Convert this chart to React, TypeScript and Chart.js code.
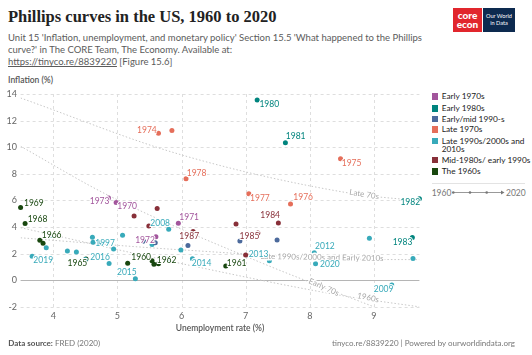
import React, { useEffect, useRef } from "react";
import { Chart, registerables } from "chart.js";

Chart.register(...registerables);

// ---------- Data ----------
const years = [
  1960, 1961, 1962, 1963, 1964, 1965, 1966, 1967, 1968, 1969,
  1970, 1971, 1972, 1973, 1974, 1975, 1976, 1977, 1978, 1979,
  1980, 1981, 1982, 1983, 1984, 1985, 1986, 1987, 1988, 1989,
  1990, 1991, 1992, 1993, 1994, 1995, 1996, 1997, 1998, 1999,
  2000, 2001, 2002, 2003, 2004, 2005, 2006, 2007, 2008, 2009,
  2010, 2011, 2012, 2013, 2014, 2015, 2016, 2017, 2018, 2019, 2020,
];
const unemployment = [
  5.54, 6.69, 5.57, 5.64, 5.16, 4.51, 3.79, 3.84, 3.56, 3.49,
  4.98, 5.95, 5.6, 4.86, 5.64, 8.48, 7.7, 7.05, 6.07, 5.85,
  7.18, 7.62, 9.71, 9.6, 7.51, 7.19, 7.0, 6.18, 5.49, 5.26,
  5.62, 6.85, 7.49, 6.91, 6.1, 5.59, 5.41, 4.94, 4.5, 4.22,
  3.97, 4.74, 5.78, 5.99, 5.54, 5.08, 4.61, 4.62, 5.8, 9.28,
  9.61, 8.93, 8.07, 7.37, 6.17, 5.28, 4.87, 4.36, 3.89, 3.67, 8.09,
];
const inflation = [
  1.46, 1.07, 1.2, 1.24, 1.28, 1.59, 3.01, 2.78, 4.27, 5.46,
  5.84, 4.29, 3.27, 6.18, 11.05, 9.14, 5.74, 6.5, 7.63, 11.25,
  13.55, 10.33, 6.13, 3.21, 4.3, 3.55, 1.9, 3.66, 4.08, 4.83,
  5.4, 4.23, 3.03, 2.95, 2.61, 2.81, 2.93, 2.34, 1.55, 2.19,
  3.38, 2.83, 1.59, 2.27, 2.68, 3.39, 3.23, 2.85, 3.84, -0.36,
  1.64, 3.16, 2.07, 1.46, 1.62, 0.12, 1.26, 2.13, 2.44, 1.81, 1.23,
];

const groupNames = [
  "Early 1970s",
  "Early 1980s",
  "Early/mid 1990-s",
  "Late 1970s",
  "Late 1990s/2000s and 2010s",
  "Mid-1980s/ early 1990s",
  "The 1960s",
];
const groupColors = ["#A2559C", "#00847E", "#4C6A9C", "#E56E5A", "#38AABA", "#883039", "#18470F"];
const groupStartYears = [1970, 1980, 1992, 1974, 1997, 1984, 1960];
const groupEndYears = [1973, 1983, 1996, 1979, 2020, 1991, 1969];

const labeledYears = [
  1960, 1961, 1962, 1965, 1966, 1968, 1969,
  1970, 1971, 1972, 1973,
  1974, 1975, 1976, 1977, 1978,
  1980, 1981, 1982, 1983,
  1984, 1985, 1987,
  1997, 2008, 2009, 2012, 2013, 2014, 2015, 2016, 2019, 2020,
];

const xTicks = [4, 5, 6, 7, 8, 9];
const yTicks = [-2, 0, 2, 4, 6, 8, 10, 12, 14];

// Comparison lines
const trendNames = ["Late 70s", "Late 1990s/2000s and Early 2010s", "Early 70s", "1960s"];
const late70sX = [3.49, 5.98, 8.63, 9.71];
const late70sY = [13.7, 9.45, 6.54, 5.97];
const late90sX = [3.49, 5.98, 8.9, 9.71];
const late90sY = [3.19, 2.29, 1.57, 1.55];
const early70sX = [3.49, 4.85, 7.23, 9.0];
const early70sY = [10.07, 6.4, 1.34, -2.0];
const sixtiesX = [3.49, 5.98, 8.5, 9.71];
const sixtiesY = [3.95, 1.27, -1.15, -2.0];
const trendLabelX = [8.85, 8.19, 8.22, 8.91];
const trendLabelY = [6.46, 1.72, -0.52, -1.31];

// ---------- Styles for labels (placement relative to point) ----------
const labelPlace: Record<number, [string, number, number]> = {
  1960: ["r", -1, -4],
  1961: ["l", 1, -3],
  1962: ["l", 2.8, -4],
  1965: ["r", 1.3, 4.6],
  1966: ["l", 2, -5.4],
  1968: ["l", 2.6, -4.5],
  1969: ["l", 3.4, -4.5],
  1970: ["l", 1.2, 3.3],
  1971: ["l", 1, -5.8],
  1972: ["r", -1, 3.8],
  1973: ["r", 1, 2.8],
  1974: ["r", -1.7, -2.6],
  1975: ["l", 1.2, 4.8],
  1976: ["l", 2.8, -6.4],
  1977: ["l", 1.2, 4.8],
  1978: ["l", 0.7, -5.4],
  1980: ["l", 2.2, 4],
  1981: ["l", 0.4, -6.5],
  1982: ["r", 0.7, 3.9],
  1983: ["r", 0, 4.7],
  1984: ["r", 1.7, -7.4],
  1985: ["r", 1.5, 3.6],
  1987: ["r", 6, 5],
  1997: ["r", 1.4, -6],
  2008: ["r", 1.3, -6.2],
  2009: ["r", 1.6, 4.2],
  2012: ["l", 0.8, -6.6],
  2013: ["r", -1, -6.4],
  2014: ["l", -0.7, 4.4],
  2015: ["r", 1.3, -6.7],
  2016: ["r", 0.9, -5.8],
  2019: ["l", 1.2, 4.3],
  2020: ["l", 4.5, 0.8],
};
const trendLabelAngles = [9, 1, 24, 12];

const FONT = "Lato, 'Noto Sans', sans-serif";

function groupOf(yr: number) {
  for (let g = 0; g < groupNames.length; g++) {
    if (yr >= groupStartYears[g] && yr <= groupEndYears[g]) return g;
  }
  return 0;
}

export default function App() {
  const ref = useRef<HTMLCanvasElement>(null);

  useEffect(() => {
    document.body.style.margin = "0";
    const canvas = ref.current;
    if (!canvas) return;

    const groupDatasets = groupNames.map((name, g) => {
      const data: { x: number; y: number }[] = [];
      years.forEach((yr, i) => {
        if (groupOf(yr) === g) data.push({ x: unemployment[i], y: inflation[i] });
      });
      return {
        type: "scatter" as const,
        label: name,
        data,
        backgroundColor: groupColors[g],
        borderWidth: 0,
        pointRadius: 2.5,
        pointHoverRadius: 2.5,
        clip: false as const,
        order: 1,
      };
    });

    const lineXs = [late70sX, late90sX, early70sX, sixtiesX];
    const lineYs = [late70sY, late90sY, early70sY, sixtiesY];
    const trendDatasets = trendNames.map((name, k) => ({
      type: "scatter" as const,
      label: name,
      data: lineXs[k].map((x, i) => ({ x, y: lineYs[k][i] })),
      showLine: true,
      borderColor: "#c8c8c8",
      borderWidth: 1,
      borderDash: [1.5, 2],
      pointRadius: 0,
      cubicInterpolationMode: "monotone" as const,
      clip: 0,
      order: 5,
    }));

    const gridPlugin = {
      id: "customGrid",
      beforeDatasetsDraw(chart: any) {
        const { ctx, chartArea } = chart;
        const xs = chart.scales.x;
        const ys = chart.scales.y;
        ctx.save();
        ctx.lineWidth = 1;
        ctx.strokeStyle = "#dedede";
        ctx.setLineDash([3, 3]);
        yTicks.forEach((v) => {
          if (v === 0) return;
          const py = Math.round(ys.getPixelForValue(v)) + 0.5;
          ctx.beginPath();
          ctx.moveTo(chartArea.left, py);
          ctx.lineTo(chartArea.right, py);
          ctx.stroke();
        });
        xTicks.forEach((v) => {
          const px = Math.round(xs.getPixelForValue(v)) + 0.5;
          ctx.beginPath();
          ctx.moveTo(px, chartArea.top);
          ctx.lineTo(px, chartArea.bottom);
          ctx.stroke();
        });
        ctx.setLineDash([]);
        ctx.strokeStyle = "#b5b5b5";
        ctx.lineWidth = 1.2;
        const p0 = Math.round(ys.getPixelForValue(0)) + 0.5;
        ctx.beginPath();
        ctx.moveTo(chartArea.left, p0);
        ctx.lineTo(chartArea.right, p0);
        ctx.stroke();
        ctx.restore();
      },
    };

    const labelPlugin = {
      id: "pointLabels",
      afterDatasetsDraw(chart: any) {
        const { ctx } = chart;
        const xs = chart.scales.x;
        const ys = chart.scales.y;
        ctx.save();
        // trend line labels
        ctx.font = `8px ${FONT}`;
        ctx.textAlign = "center";
        ctx.textBaseline = "middle";
        trendNames.forEach((name, k) => {
          const px = xs.getPixelForValue(trendLabelX[k]);
          const py = ys.getPixelForValue(trendLabelY[k]);
          ctx.save();
          ctx.translate(px, py);
          ctx.rotate((trendLabelAngles[k] * Math.PI) / 180);
          ctx.lineWidth = 3;
          ctx.strokeStyle = "#fff";
          ctx.strokeText(name, 0, 0);
          ctx.fillStyle = "#a8a8a8";
          ctx.fillText(name, 0, 0);
          ctx.restore();
        });
        // year labels
        ctx.font = `8.5px ${FONT}`;
        labeledYears.forEach((yr) => {
          const i = years.indexOf(yr);
          const g = groupOf(yr);
          const [align, dx, dy] = labelPlace[yr];
          const px = xs.getPixelForValue(unemployment[i]) + dx;
          const py = ys.getPixelForValue(inflation[i]) + dy;
          ctx.textAlign = align === "l" ? "left" : "right";
          ctx.lineWidth = 2;
          ctx.strokeStyle = "#fff";
          ctx.strokeText(String(yr), px, py);
          ctx.fillStyle = groupColors[g];
          ctx.fillText(String(yr), px, py);
        });
        ctx.restore();
      },
    };

    const chart = new Chart(canvas, {
      type: "scatter",
      data: { datasets: [...groupDatasets, ...trendDatasets] as any },
      options: {
        responsive: false,
        animation: false,
        devicePixelRatio: 1,
        events: [],
        layout: { padding: { left: 0, right: 10.6, top: 7.3, bottom: 0 } },
        plugins: { legend: { display: false }, tooltip: { enabled: false } },
        scales: {
          x: {
            type: "linear",
            min: 3.49,
            max: 9.71,
            grid: { display: false, drawTicks: false },
            border: { display: false },
            afterBuildTicks: (s: any) => {
              s.ticks = xTicks.map((v) => ({ value: v }));
            },
            afterFit: (s: any) => {
              s.height = 25.5;
            },
            ticks: {
              font: { family: FONT, size: 9 },
              color: "#666",
              padding: 1,
              maxRotation: 0,
              autoSkip: false,
            },
          },
          y: {
            type: "linear",
            min: -2.2,
            max: 14,
            grid: { display: false, drawTicks: false },
            border: { display: false },
            afterBuildTicks: (s: any) => {
              s.ticks = yTicks.map((v) => ({ value: v }));
            },
            afterFit: (s: any) => {
              s.width = 20.6;
            },
            ticks: {
              font: { family: FONT, size: 9 },
              color: "#666",
              padding: 3.6,
              autoSkip: false,
            },
          },
        },
      },
      plugins: [gridPlugin, labelPlugin],
    });
    return () => chart.destroy();
  }, []);

  const legendTops = [96.7, 108.3, 119, 129.3, 141, 160, 171.7];

  return (
    <div
      style={{
        position: "relative",
        width: 532,
        height: 355,
        background: "#fff",
        overflow: "hidden",
        fontFamily: FONT,
      }}
    >
      <div
        style={{
          position: "absolute",
          left: 8,
          top: 7,
          fontFamily: "'Liberation Serif', 'DejaVu Serif', serif",
          fontWeight: 700,
          fontSize: 16.5,
          lineHeight: "20px",
          color: "#222",
          whiteSpace: "nowrap",
        }}
      >
        Phillips curves in the US, 1960 to 2020
      </div>
      <div
        style={{
          position: "absolute",
          left: 8,
          top: 32,
          fontSize: 9.5,
          lineHeight: "12.2px",
          color: "#5b5b5b",
          whiteSpace: "nowrap",
        }}
      >
        Unit 15 'Inflation, unemployment, and monetary policy' Section 15.5 'What happened to the Phillips
        <br />
        curve?' in The CORE Team, The Economy. Available at:
        <br />
        <span style={{ textDecoration: "underline" }}>https://tinyco.re/8839220</span> [Figure 15.6]
      </div>

      {/* Logo */}
      <div
        style={{
          position: "absolute",
          left: 453,
          top: 8,
          width: 29,
          height: 24,
          background: "#E1262D",
          color: "#fff",
          fontWeight: 900,
          fontSize: 10,
          lineHeight: "9.5px",
          textAlign: "center",
          paddingTop: 2.5,
          boxSizing: "border-box",
        }}
      >
        core
        <br />
        econ
      </div>
      <div
        style={{
          position: "absolute",
          left: 483,
          top: 8,
          width: 32,
          height: 24,
          background: "#0D2A4F",
          color: "#fff",
          fontSize: 5.6,
          lineHeight: "6.5px",
          textAlign: "center",
          paddingTop: 5,
          boxSizing: "border-box",
        }}
      >
        Our World
        <br />
        in Data
      </div>

      <div
        style={{
          position: "absolute",
          left: 8,
          top: 74,
          fontSize: 8.5,
          lineHeight: "12px",
          color: "#555",
          fontWeight: 600,
          whiteSpace: "nowrap",
        }}
      >
        Inflation (%)
      </div>

      <canvas
        ref={ref}
        width={430}
        height={250}
        style={{ position: "absolute", left: 0, top: 85, width: 430, height: 250 }}
      />

      {/* Legend */}
      {groupNames.map((name, i) => (
        <div key={name}>
          <div
            style={{
              position: "absolute",
              left: 431.7,
              top: legendTops[i] - 3.3,
              width: 6.7,
              height: 6.7,
              background: groupColors[i],
            }}
          />
          <div
            style={{
              position: "absolute",
              left: 441.7,
              top: legendTops[i] - 4.5,
              fontSize: 8.3,
              lineHeight: "8.5px",
              color: "#222",
              whiteSpace: "nowrap",
            }}
          >
            {name === "Late 1990s/2000s and 2010s" ? (
              <>
                Late 1990s/2000s and
                <br />
                2010s
              </>
            ) : (
              name
            )}
          </div>
        </div>
      ))}
      <div
        style={{
          position: "absolute",
          left: 431.7,
          top: 183,
          width: 93.3,
          height: 1,
          background: "#e3e3e3",
        }}
      />
      <svg
        width={100}
        height={16}
        style={{ position: "absolute", left: 430, top: 185 }}
      >
        <text x={1.7} y={10.5} fontSize={8.5} fill="#777" fontFamily={FONT}>
          1960
        </text>
        <line x1={22} y1={7.5} x2={72} y2={7.5} stroke="#999" strokeWidth={1} />
        <circle cx={23.3} cy={7.5} r={1.3} fill="#777" />
        <circle cx={40} cy={7.5} r={1.3} fill="#777" />
        <circle cx={56.7} cy={7.5} r={1.3} fill="#777" />
        <path d="M71,5.5 L74.5,7.5 L71,9.5 Z" fill="#777" />
        <text x={76} y={10.5} fontSize={8.5} fill="#777" fontFamily={FONT}>
          2020
        </text>
      </svg>

      <div
        style={{
          position: "absolute",
          left: 220,
          top: 322,
          transform: "translateX(-50%)",
          fontSize: 8.5,
          lineHeight: "12px",
          color: "#555",
          fontWeight: 600,
          whiteSpace: "nowrap",
        }}
      >
        Unemployment rate (%)
      </div>

      <div
        style={{
          position: "absolute",
          left: 8.3,
          top: 337,
          fontSize: 8,
          lineHeight: "12px",
          color: "#777",
          whiteSpace: "nowrap",
        }}
      >
        <span style={{ fontWeight: 700, color: "#555" }}>Data source:</span> FRED (2020)
      </div>
      <div
        style={{
          position: "absolute",
          right: 17,
          top: 337,
          fontSize: 8,
          lineHeight: "12px",
          color: "#777",
          whiteSpace: "nowrap",
        }}
      >
        tinyco.re/8839220 | Powered by ourworldindata.org
      </div>
    </div>
  );
}
